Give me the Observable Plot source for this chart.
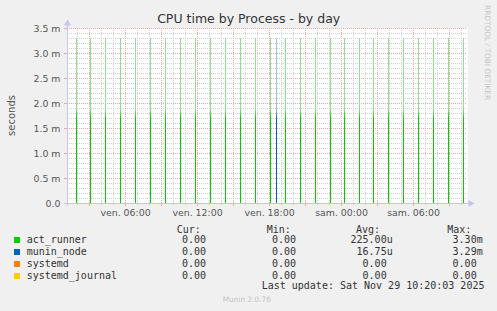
<!DOCTYPE html>
<html><head><meta charset="utf-8">
<script src="https://cdn.jsdelivr.net/npm/d3@7"></script>
<script src="https://cdn.jsdelivr.net/npm/@observablehq/plot@0.6"></script>
<style>
html,body{margin:0;padding:0;background:#f0f0f0;}
#c{position:relative;width:497px;height:311px;background:#f0f0f0;overflow:hidden;}
#c svg{display:block;}
</style></head><body><div id="c"></div>
<script>
// ---- data ----
const title = "CPU time by Process - by day";
const yLabel = "seconds";
const sideText = "RRDTOOL / TOBI OETIKER";
const footer = "Munin 2.0.76";
const lastUpdate = "Last update: Sat Nov 29 10:20:03 2025";
const seriesNames = ["act_runner", "munin_node", "systemd", "systemd_journal"];
const seriesColors = ["#00cc00", "#0066b3", "#ff8000", "#ffcc00"];
const seriesLight = ["#90e090", "#a0c4e4", "#ffc080", "#ffe680"];
const actRunnerTimes = [
  "2025-11-28T01:55","2025-11-28T03:05","2025-11-28T04:20","2025-11-28T05:35",
  "2025-11-28T06:50","2025-11-28T08:05","2025-11-28T09:20","2025-11-28T10:35",
  "2025-11-28T11:50","2025-11-28T13:05","2025-11-28T14:20","2025-11-28T15:35",
  "2025-11-28T16:50","2025-11-28T18:05","2025-11-28T19:20","2025-11-28T20:35",
  "2025-11-28T21:50","2025-11-28T23:05","2025-11-29T00:15","2025-11-29T01:30",
  "2025-11-29T02:40","2025-11-29T03:55","2025-11-29T05:10","2025-11-29T06:25",
  "2025-11-29T07:40","2025-11-29T08:55","2025-11-29T10:10"];
const actRunnerValues = [
  3.30e-3,3.30e-3,3.30e-3,3.30e-3,3.30e-3,3.30e-3,3.30e-3,3.30e-3,3.30e-3,
  3.30e-3,3.30e-3,3.30e-3,3.30e-3,3.30e-3,3.30e-3,3.30e-3,3.30e-3,3.30e-3,
  3.30e-3,3.30e-3,3.30e-3,3.30e-3,3.30e-3,3.30e-3,3.30e-3,3.30e-3,3.30e-3];
const muninNodeTimes = ["2025-11-28T18:35"];
const muninNodeValues = [3.29e-3];
const curValues = ["0.00", "0.00", "0.00", "0.00"];
const minValues = ["0.00", "0.00", "0.00", "0.00"];
const avgValues = ["225.00u", "16.75u", "0.00", "0.00"];
const maxValues = ["3.30m", "3.29m", "0.00", "0.00"];
const legendHeaders = ["Cur:", "Min:", "Avg:", "Max:"];
const yTicks = [0, 0.5e-3, 1.0e-3, 1.5e-3, 2.0e-3, 2.5e-3, 3.0e-3, 3.5e-3];
const xLabelTicks = ["2025-11-28T06:00","2025-11-28T12:00","2025-11-28T18:00","2025-11-29T00:00","2025-11-29T06:00"];
const dayNames = ["dim.", "lun.", "mar.", "mer.", "jeu.", "ven.", "sam."];
const xStart = "2025-11-28T01:10", xEnd = "2025-11-29T10:30";

// ---- build ----
const parse = s => new Date(s + ":00Z");
const act = actRunnerTimes.map((t, i) => ({t: parse(t), v: actRunnerValues[i]}));
const mun = muninNodeTimes.map((t, i) => ({t: parse(t), v: muninNodeValues[i]}));
const x0 = parse(xStart), x1 = parse(xEnd);
const hours = d3.utcHour.range(x0, x1);
const hour3 = hours.filter(d => d.getUTCHours() % 3 === 0);
const hourMinor = hours.filter(d => d.getUTCHours() % 3 !== 0);
const yMinor = d3.range(1, 35).filter(i => i % 5 !== 0).map(i => i * 1e-4);
const xLab = xLabelTicks.map(parse);
const fmtY = d => d === 0 ? "0.0" : (d * 1000).toFixed(1) + " m";
const fmtX = d => dayNames[d.getUTCDay()] + " " + d3.utcFormat("%H:%M")(d);
const minorC = "#cfcfcf", majorC = "#e4a8a8", axisC = "#c4c4ee";

const plot = Plot.plot({
  width: 497, height: 311,
  marginLeft: 67, marginRight: 30, marginTop: 28, marginBottom: 108,
  style: {background: "transparent", fontFamily: "DejaVu Sans", fontSize: "9.4px", color: "#555", overflow: "visible"},
  x: {type: "utc", domain: [x0, x1], label: null},
  y: {domain: [0, 3.5e-3], label: null},
  marks: [
    Plot.frame({fill: "white", stroke: null}),
    Plot.ruleY(yMinor, {stroke: minorC, strokeDasharray: "1,1"}),
    Plot.ruleX(hourMinor, {stroke: minorC, strokeDasharray: "1,1"}),
    Plot.ruleY(yTicks, {stroke: majorC, strokeDasharray: "1,1"}),
    Plot.ruleX(hour3, {stroke: majorC, strokeDasharray: "1,1"}),
    Plot.axisX(hour3, {tickSize: 3, stroke: majorC, tickFormat: () => "", label: null}),
    Plot.axisX(hourMinor, {tickSize: 2, stroke: minorC, tickFormat: () => "", label: null}),
    Plot.axisY(yTicks, {tickSize: 3, stroke: majorC, tickFormat: () => "", label: null}),
    Plot.axisY(yTicks, {tickSize: 0, tickPadding: 7, tickFormat: fmtY, fill: "#555", label: null}),
    Plot.axisX(xLab, {tickSize: 0, tickPadding: 6, tickFormat: fmtX, fill: "#555", label: null}),
    Plot.ruleX(act, {x: "t", y1: 0, y2: "v", stroke: "url(#g0)"}),
    Plot.ruleX(mun, {x: "t", y1: 0, y2: "v", stroke: "url(#g1)"}),
    Plot.ruleX([x0], {stroke: axisC, insetTop: -3, insetBottom: -3}),
    Plot.ruleY([0], {stroke: axisC, insetLeft: -3, insetRight: -3}),
    Plot.dot([x0], {x: d => d, y: () => 3.5e-3, symbol: "triangle", r: 2.6, fill: axisC, stroke: null, dy: -5}),
    Plot.dot([x1], {x: d => d, y: () => 0, symbol: "triangle", r: 2.6, fill: axisC, stroke: null, dx: 3, rotate: 90})
  ]
});

const svg = d3.select(plot);
const defs = svg.insert("defs", ":first-child");
seriesColors.forEach((c, i) => {
  const g = defs.append("linearGradient").attr("id", "g" + i)
    .attr("gradientUnits", "userSpaceOnUse").attr("x1", 0).attr("x2", 0).attr("y1", 28).attr("y2", 203);
  g.append("stop").attr("offset", 0).attr("stop-color", seriesLight[i]);
  g.append("stop").attr("offset", 0.46).attr("stop-color", seriesLight[i]);
  g.append("stop").attr("offset", 0.52).attr("stop-color", c);
  g.append("stop").attr("offset", 1).attr("stop-color", c);
});

const ov = svg.append("g").attr("text-anchor", "start");
ov.append("text").attr("x", 248.7).attr("y", 23).attr("text-anchor", "middle")
  .attr("font-family", "DejaVu Sans").attr("font-size", 12.5).attr("fill", "#333").text(title);
ov.append("text").attr("transform", "translate(15,115.5) rotate(-90)").attr("text-anchor", "middle")
  .attr("font-family", "DejaVu Sans").attr("font-size", 10).attr("fill", "#555").text(yLabel);
ov.append("text").attr("transform", "translate(485,5) rotate(90)").attr("text-anchor", "start")
  .attr("font-family", "DejaVu Sans").attr("font-size", 7.4).attr("fill", "#c4c4c4").text(sideText);
ov.append("text").attr("x", 222.7).attr("y", 302).attr("text-anchor", "start").attr("font-family", "DejaVu Sans")
  .attr("font-size", 7.4).attr("fill", "#c4c4c4").text(footer);

const mono = sel => sel.attr("font-family", "DejaVu Sans Mono").attr("font-size", 10).attr("fill", "#333").attr("text-anchor", "start");
const headX = [176.7, 266.7, 356, 447.3];
legendHeaders.forEach((h, i) => mono(ov.append("text")).attr("x", headX[i]).attr("y", 232.5).text(h));
const cw = 6.02;
const colRight = [206 + cw, 296 + cw, 392.7, 482.7];
const cols = [curValues, minValues, avgValues, maxValues];
seriesNames.forEach((n, r) => {
  const y = 242.8 + 12 * r;
  ov.append("rect").attr("x", 14).attr("y", 237 + 12 * r).attr("width", 6).attr("height", 6).attr("fill", seriesColors[r]);
  mono(ov.append("text")).attr("x", 26.7).attr("y", y).text(n);
  cols.forEach((col, c) => {
    const v = col[r];
    const unit = /[a-zA-Z]$/.test(v);
    mono(ov.append("text")).attr("x", colRight[c] - (unit ? 0 : cw)).attr("y", y).attr("text-anchor", "end").text(v);
  });
});
mono(ov.append("text")).attr("x", 261.7).attr("y", 289).text(lastUpdate);

document.getElementById("c").appendChild(plot);
</script></body></html>
